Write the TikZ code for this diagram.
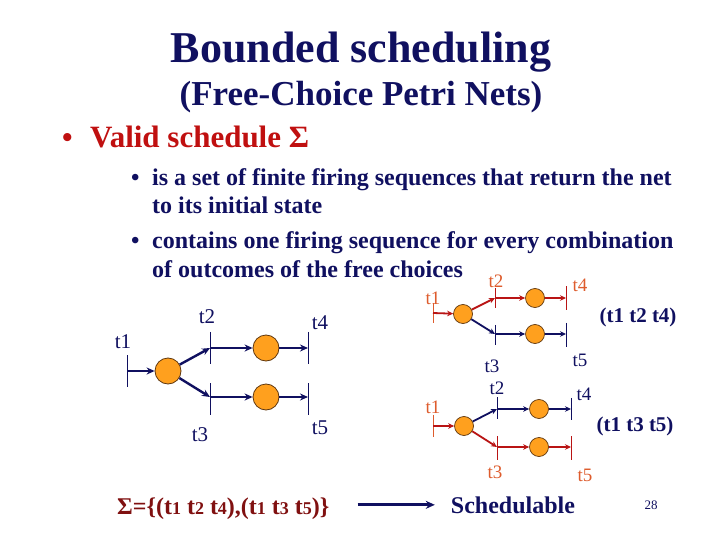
\documentclass[tikz,border=0pt]{standalone}
\usepackage{fontspec}
\setmainfont{Liberation Serif}
\usetikzlibrary{arrows.meta}
\definecolor{navy}{RGB}{16,16,96}
\definecolor{arcred}{RGB}{185,20,20}
\definecolor{lblorange}{RGB}{222,92,45}
\definecolor{placefill}{RGB}{255,160,30}
\definecolor{placeline}{RGB}{95,55,15}
\definecolor{validred}{RGB}{192,16,16}
\definecolor{maroon}{RGB}{128,16,16}
\newcommand{\fs}[1]{\fontsize{#1}{#1}\selectfont}
\newcommand{\sd}[1]{{\fontsize{18}{18}\selectfont #1}}
\tikzset{
  x=1pt, y=-1pt,
  bigplace/.style={circle, draw=placeline, line width=0.8pt, fill=placefill, minimum size=26pt, inner sep=0pt},
  smallplace/.style={circle, draw=placeline, line width=0.7pt, fill=placefill, minimum size=19pt, inner sep=0pt},
  trans/.style={inner sep=0pt, minimum width=0pt, minimum height=#1, draw=none},
  bar/.style={line width=0.9pt},
  bigarc/.style={line width=2.4pt, -{Stealth[length=8pt,width=7pt]}},
  smallarc/.style={line width=1.8pt, -{Stealth[length=6pt,width=5.5pt]}},
  biglbl/.style={font=\fs{21}, text=navy, inner sep=0pt},
  smllbl/.style={font=\fs{19}, inner sep=0pt},
  bodytext/.style={anchor=base west, font=\fs{24}\bfseries, text=navy, inner sep=0pt},
}
\begin{document}
\begin{tikzpicture}
\useasboundingbox (0,0) rectangle (720,540);
\fill[white] (0,0) rectangle (720,540);

% titles
\node[anchor=base, font=\fs{44}\bfseries, text=navy, inner sep=0pt] (title) at (361,63) {Bounded scheduling};
\node[anchor=base, font=\fs{35}\bfseries, text=navy, inner sep=0pt] (subtitle) at (361,106) {(Free-Choice Petri Nets)};

% bullets
\node[anchor=base west, font=\fs{30}\bfseries, text=validred, inner sep=0pt] (b0) at (62,148) {•};
\node[anchor=base west, font=\fs{31}\bfseries, text=validred, inner sep=0pt] (valid) at (90,148) {Valid schedule Σ};
\node[bodytext] (b1) at (131,186) {•};
\node[bodytext] (l1) at (152,186) {is a set of finite firing sequences that return the net};
\node[bodytext] (l2) at (152,214) {to its initial state};
\node[bodytext] (b2) at (131,248) {•};
\node[bodytext] (l3) at (152,248) {contains one firing sequence for every combination};
\node[bodytext] (l4) at (152,277) {of outcomes of the free choices};

% ---------- left net ----------
\node[trans=31pt] (L1) at (127,371) {};
\node[bigplace] (LP1) at (168,371) {};
\node[trans=32pt] (L2) at (210,348) {};
\node[bigplace] (LP2) at (266,348) {};
\node[trans=32pt] (L4) at (308,348) {};
\node[trans=31pt] (L3) at (210,399) {};
\node[bigplace] (LP3) at (266,397) {};
\node[trans=31pt] (L5) at (308,399) {};
\foreach \t in {L1,L2,L3,L4,L5} \draw[bar, navy] (\t.north) -- (\t.south);
\begin{scope}[navy]
\draw[bigarc] (L1.center) -- (LP1);
\draw[bigarc] (LP1) -- (L2.center);
\draw[bigarc] (L2.center) -- (LP2);
\draw[bigarc] (LP2) -- (L4.center);
\draw[bigarc] (LP1) -- (L3.center|-LP3);
\draw[bigarc] (L3.center|-LP3) -- (LP3);
\draw[bigarc] (LP3) -- (L5.center|-LP3);
\end{scope}
\node[biglbl] (lt1) at (123,342) {t1};
\node[biglbl] (lt2) at (207,317) {t2};
\node[biglbl] (lt4) at (320,323) {t4};
\node[biglbl] (lt3) at (200,435) {t3};
\node[biglbl] (lt5) at (320,428) {t5};

% ---------- top right net (t1 t2 t4) ----------
\node[trans=20pt] (A1) at (433,313) {};
\node[smallplace] (AP1) at (463,314) {};
\node[trans=20pt] (A2) at (495,298) {};
\node[smallplace] (AP2) at (535,298) {};
\node[trans=23pt] (A4) at (566,298) {};
\node[trans=20pt] (A3) at (495,335) {};
\node[smallplace] (AP3) at (535,334) {};
\node[trans=24pt] (A5) at (566,335) {};
\draw[bar, lblorange] (A1.north) -- (A1.south);
\draw[bar, arcred] (A2.north) -- (A2.south);
\draw[bar, arcred] (A4.north) -- (A4.south);
\draw[bar, navy] (A3.north) -- (A3.south);
\draw[bar, navy] (A5.north) -- (A5.south);
\draw[smallarc, arcred] (A1.center) -- (AP1);
\draw[smallarc, arcred] (AP1) -- (A2.center);
\draw[smallarc, arcred] (A2.center) -- (AP2);
\draw[smallarc, arcred] (AP2) -- (A4.center);
\draw[smallarc, navy] (AP1) -- (A3.center|-AP3);
\draw[smallarc, navy] (A3.center|-AP3) -- (AP3);
\draw[smallarc, navy] (AP3) -- (A5.center|-AP3);
\node[smllbl, text=lblorange] (at1) at (433,298) {t1};
\node[smllbl, text=lblorange] (at2) at (496,281) {t2};
\node[smllbl, text=lblorange] (at4) at (580,285) {t4};
\node[smllbl, text=navy] (at3) at (492,366) {t3};
\node[smllbl, text=navy] (at5) at (580,360) {t5};
\node[font=\fs{21}\bfseries, text=navy, inner sep=0pt] (seqA) at (638,317) {(t1 t2 t4)};

% ---------- bottom right net (t1 t3 t5) ----------
\node[trans=22pt] (B1) at (433,426) {};
\node[smallplace] (BP1) at (464,426) {};
\node[trans=21pt] (B2) at (497,408) {};
\node[smallplace] (BP2) at (539,409) {};
\node[trans=22pt] (B4) at (571,409) {};
\node[trans=23pt] (B3) at (497,448) {};
\node[smallplace] (BP3) at (539,447) {};
\node[trans=23pt] (B5) at (571,448) {};
\draw[bar, lblorange] (B1.north) -- (B1.south);
\draw[bar, navy] (B2.north) -- (B2.south);
\draw[bar, navy] (B4.north) -- (B4.south);
\draw[bar, arcred] (B3.north) -- (B3.south);
\draw[bar, arcred] (B5.north) -- (B5.south);
\draw[smallarc, arcred] (B1.center) -- (BP1);
\draw[smallarc, navy] (BP1) -- (B2.center|-BP2);
\draw[smallarc, navy] (B2.center|-BP2) -- (BP2);
\draw[smallarc, navy] (BP2) -- (B4.center);
\draw[smallarc, arcred] (BP1) -- (B3.center|-BP3);
\draw[smallarc, arcred] (B3.center|-BP3) -- (BP3);
\draw[smallarc, arcred] (BP3) -- (B5.center|-BP3);
\node[smllbl, text=lblorange] (bt1) at (433,407) {t1};
\node[smllbl, text=navy] (bt2) at (497,388) {t2};
\node[smllbl, text=navy] (bt4) at (584,394) {t4};
\node[smllbl, text=lblorange] (bt3) at (495,472) {t3};
\node[smllbl, text=lblorange] (bt5) at (585,475) {t5};
\node[font=\fs{21}\bfseries, text=navy, inner sep=0pt] (seqB) at (635,426) {(t1 t3 t5)};

% ---------- bottom line ----------
\node[anchor=base west, font=\fs{24}\bfseries, text=maroon, inner sep=0pt] (sigma) at (117,514)
  {Σ=\{(t\sd{1} t\sd{2} t\sd{4}),(t\sd{1} t\sd{3} t\sd{5})\}};
\node[anchor=base, font=\fs{24}\bfseries, text=navy, inner sep=0pt] (sched) at (513,513) {Schedulable};
\draw[navy, line width=3pt, -{Stealth[length=9pt,width=8pt]}] (sigma.east|-sched.center) ++(28,0) coordinate (arrS) -- ([xshift=-16pt]sched.west);
\node[font=\fs{13}, text=navy, inner sep=0pt] (pg) at (651,505) {28};
\end{tikzpicture}
\end{document}
